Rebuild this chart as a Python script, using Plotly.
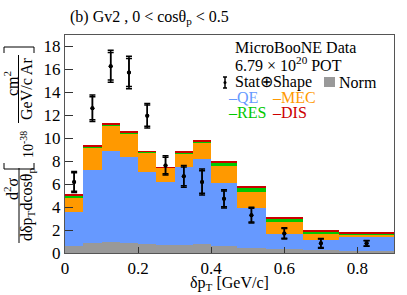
import numpy as np
import plotly.graph_objects as go

# ---------------- data ----------------
bin_edges = [0, 0.05, 0.10, 0.15, 0.20, 0.25, 0.30, 0.35, 0.40, 0.47, 0.55, 0.65, 0.75, 0.90]
qe  = [3.56, 7.20, 8.85, 8.36, 7.05, 6.16, 7.46, 8.20, 6.14, 3.90, 1.68, 1.10, 1.42]
mec = [1.31, 2.03, 2.23, 2.08, 1.72, 1.26, 1.22, 1.42, 1.46, 1.39, 1.01, 0.58, 0.18]
res = [0.17, 0.08, 0.12, 0.06, 0.08, 0.02, 0.08, 0.14, 0.26, 0.38, 0.34, 0.23, 0.14]
dis = [0.08, 0.05, 0.05, 0.07, 0.03, 0.04, 0.06, 0.10, 0.09, 0.09, 0.07, 0.09, 0.04]
norm_unc = [0.60, 0.90, 0.99, 0.90, 0.82, 0.67, 0.72, 0.75, 0.60, 0.46, 0.32, 0.23, 0.15]
data_val = [6.19, 12.61, 16.28, 15.73, 11.97, 7.63, 6.68, 6.19, 4.72, 3.30, 1.71, 0.84, 0.84]
data_err_tot = [0.92, 1.15, 1.39, 1.42, 1.07, 0.84, 0.95, 1.13, 0.80, 0.69, 0.49, 0.43, 0.26]
data_err_stat = [0.80, 1.00, 1.20, 1.22, 0.93, 0.72, 0.82, 0.98, 0.69, 0.60, 0.42, 0.37, 0.22]
x_ticks = [0, 0.2, 0.4, 0.6, 0.8]
y_ticks = [0, 2, 4, 6, 8, 10, 12, 14, 16, 18]

edges = np.array(bin_edges)
centers = 0.5 * (edges[1:] + edges[:-1])
widths = edges[1:] - edges[:-1]

C_QE = "rgb(102,153,255)"
C_MEC = "rgb(255,153,0)"
C_RES = "rgb(0,200,0)"
C_DIS = "rgb(204,0,0)"
C_NORM = "rgb(153,153,153)"

FONT = "Liberation Serif, Times New Roman, serif"

fig = go.Figure()
base = np.zeros(len(qe))
for vals, col, name in [(qe, C_QE, "QE"), (mec, C_MEC, "MEC"), (res, C_RES, "RES"), (dis, C_DIS, "DIS")]:
    v = np.array(vals)
    fig.add_trace(go.Bar(x=centers, y=v, base=base.copy(), width=widths, marker=dict(color=col, line=dict(width=0)),
                         name=name, showlegend=False))
    base = base + v
fig.add_trace(go.Bar(x=centers, y=norm_unc, base=0, width=widths, marker=dict(color=C_NORM, line=dict(width=0)),
                     name="Norm", showlegend=False))

# data points: total and stat error bars
fig.add_trace(go.Scatter(x=centers, y=data_val, mode="markers",
                         marker=dict(color="black", size=4),
                         error_y=dict(type="data", array=data_err_tot, color="black", thickness=1.5, width=3),
                         showlegend=False))
fig.add_trace(go.Scatter(x=centers, y=data_val, mode="markers",
                         marker=dict(color="black", size=4),
                         error_y=dict(type="data", array=data_err_stat, color="black", thickness=1.5, width=3),
                         showlegend=False))

L, R, T, B = 65, 13, 35, 42
W, H = 407, 295
PW, PH = W - L - R, H - T - B

def px(x):
    return (x - L) / PW

def py(y):
    return (H - B - y) / PH

ann = []
def text(x, y, s, size=16, color="black", angle=0, xanchor="center", yanchor="middle"):
    ann.append(dict(x=px(x), y=py(y), xref="paper", yref="paper", text=s, showarrow=False,
                    font=dict(family=FONT, size=size, color=color), textangle=angle,
                    xanchor=xanchor, yanchor=yanchor))

shapes = []
def line(x0, y0, x1, y1, color="black", w=1):
    shapes.append(dict(type="line", xref="paper", yref="paper", x0=px(x0), y0=py(y0), x1=px(x1), y1=py(y1),
                       line=dict(color=color, width=w)))

# title
text(68, 17, "(b) Gv2 , 0 &lt; cosθ<sub>p</sub> &lt; 0.5", size=16, xanchor="left")
# x title
text(229, 283, "δp<sub>T</sub> [GeV/c]", size=16)

# y title pieces (rotated)
text(11, 189, "d<sup>2</sup>σ", size=16, angle=-90)
line(19, 168, 19, 243)
text(27, 205, "dδp<sub>T</sub>dcosθ<sub>p</sub>", size=16, angle=-90)
text(27, 145, "10<sup>-38</sup>", size=14, angle=-90)
text(11, 84, "cm<sup>2</sup>", size=16, angle=-90)
line(18.5, 55, 18.5, 123)
text(26, 89, "GeV/c Ar", size=16, angle=-90)
# brackets
line(4, 169, 34, 169)
line(4, 169, 4, 163)
line(34, 169, 34, 163)
line(4, 47, 34, 47)
line(4, 47, 4, 53)
line(34, 47, 34, 53)

# legend
text(233, 48, "MicroBooNE Data", size=16, xanchor="left")
text(233, 64, "6.79 × 10<sup>20</sup> POT", size=16, xanchor="left")
# error-bar icon
line(225, 77, 225, 88, w=1.5)
line(223, 77, 227, 77, w=1.5)
line(223, 88, 227, 88, w=1.5)
shapes.append(dict(type="circle", xref="paper", yref="paper", x0=px(223.5), x1=px(226.5), y0=py(81), y1=py(84),
                   fillcolor="black", line=dict(width=0)))
text(233, 82, "Stat⊕Shape", size=16, xanchor="left")
shapes.append(dict(type="rect", xref="paper", yref="paper", x0=px(324), x1=px(335), y0=py(87), y1=py(77),
                   fillcolor=C_NORM, line=dict(width=0)))
text(337, 82, "Norm", size=16, xanchor="left")
text(226, 97, "–QE", size=16, color=C_QE, xanchor="left")
text(270, 97, "–MEC", size=16, color=C_MEC, xanchor="left")
text(226, 112, "–RES", size=16, color=C_RES, xanchor="left")
text(270, 112, "–DIS", size=16, color=C_DIS, xanchor="left")

fig.update_layout(
    width=W, height=H,
    margin=dict(l=L, r=R, t=T, b=B),
    barmode="overlay", bargap=0,
    plot_bgcolor="white", paper_bgcolor="white",
    annotations=ann, shapes=shapes,
    font=dict(family=FONT, size=17, color="black"),
)
fig.update_xaxes(range=[0, 0.9], tickvals=x_ticks, ticktext=[("%g" % v) for v in x_ticks],
                 ticks="inside", ticklen=6, tickcolor="#333", showgrid=False, zeroline=False,
                 showline=True, linecolor="#555", linewidth=1, mirror=True,
                 tickfont=dict(family=FONT, size=17))
fig.update_yaxes(range=[0, 19], tickvals=y_ticks, ticks="inside", ticklen=8, tickcolor="#333",
                 showgrid=False, zeroline=False, showline=True, linecolor="#555", linewidth=1, mirror=True,
                 tickfont=dict(family=FONT, size=17))

fig.write_html("out.html", config={"displayModeBar": False},
               post_script="document.body.style.margin='0px';document.body.style.padding='0px';document.body.style.overflow='hidden';")
